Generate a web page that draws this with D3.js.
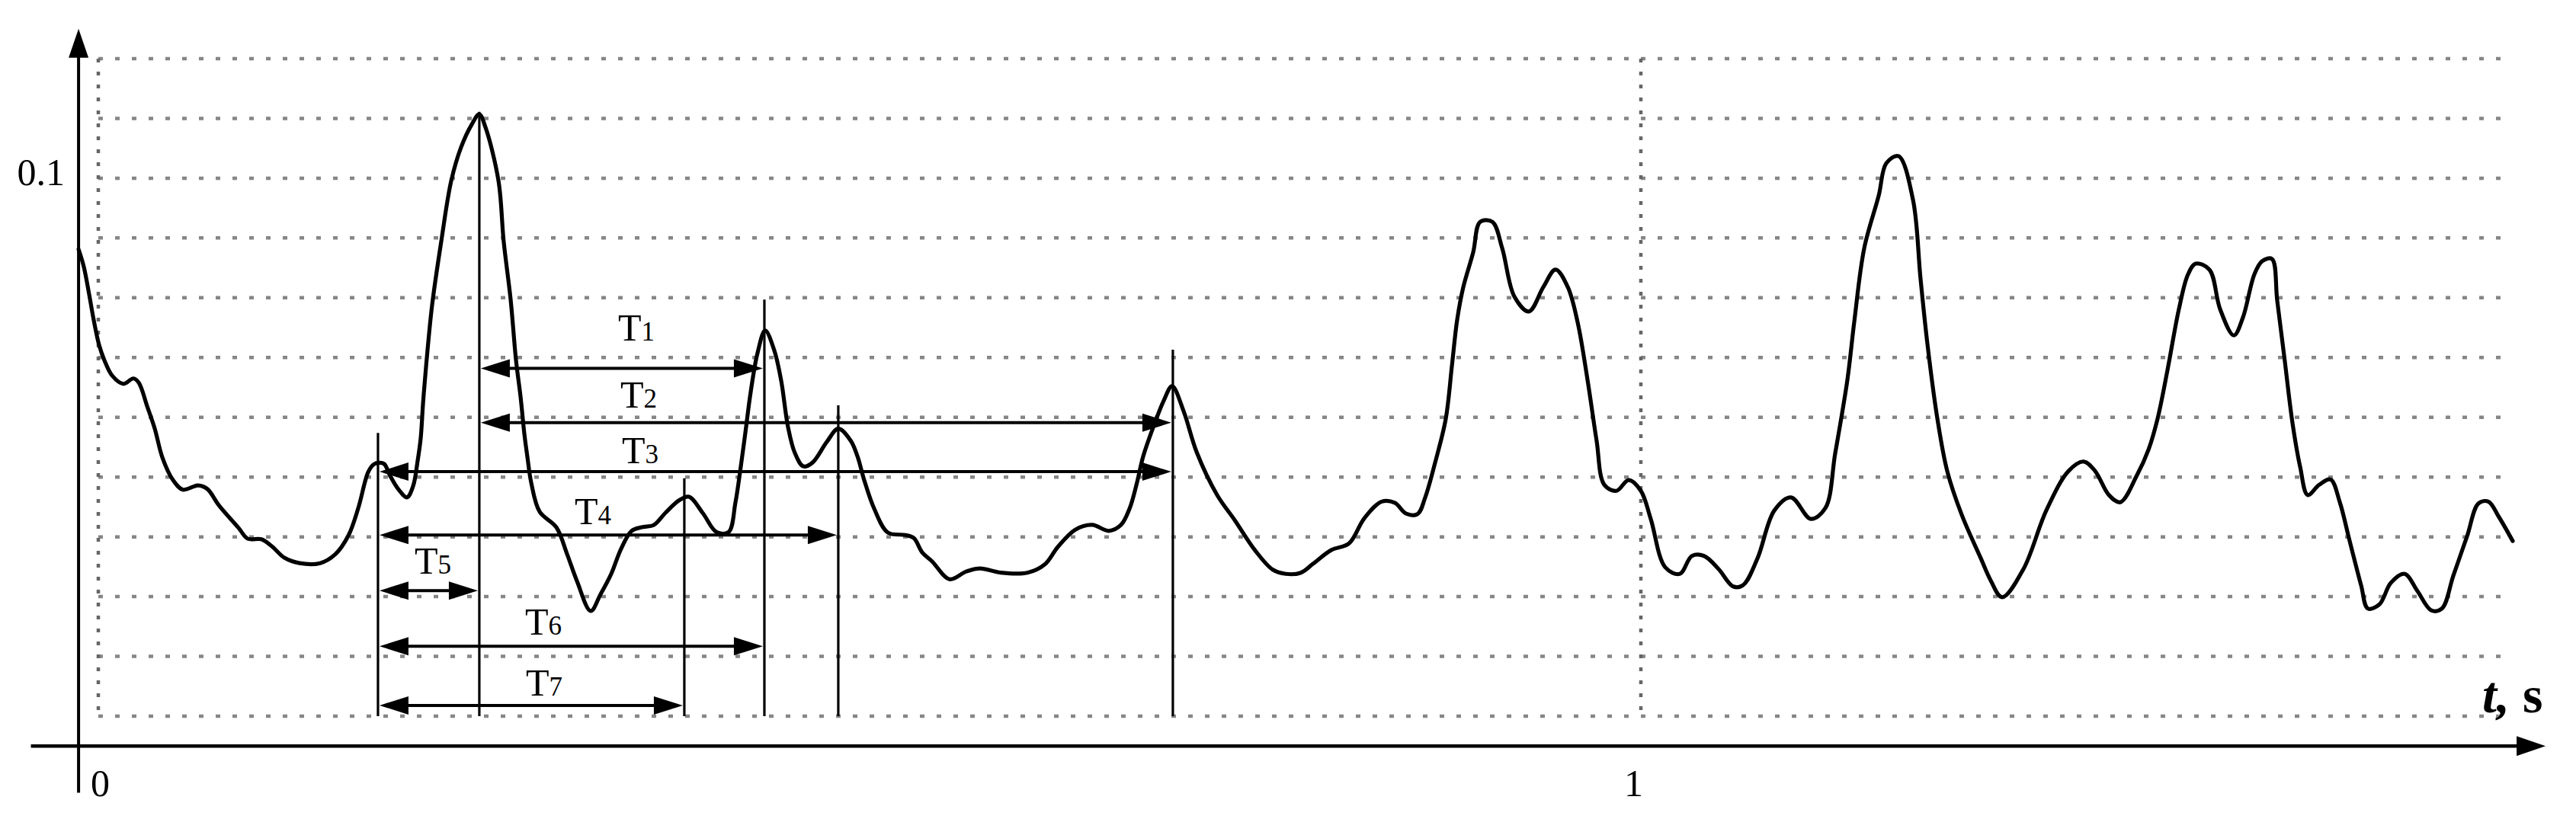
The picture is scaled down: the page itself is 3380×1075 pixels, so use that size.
<!DOCTYPE html>
<html>
<head>
<meta charset="utf-8">
<script src="https://cdn.jsdelivr.net/npm/d3@7"></script>
<style>
  html, body { margin: 0; padding: 0; background: #ffffff; }
  svg { display: block; }
</style>
</head>
<body>
<svg id="chart" width="3380" height="1075"></svg>
<script>
// ---------------- DATA ----------------
// time, s
const time = [
  -0.0128,-0.0094,-0.0059,-0.0030,0.0005,0.0040,0.0089,0.0163,0.0227,0.0262,
  0.0316,0.0366,0.0415,0.0484,0.0548,0.0647,0.0707,0.0781,0.0909,0.0968,
  0.1057,0.1126,0.1206,0.1304,0.1438,0.1537,0.1621,0.1685,0.1749,0.1784,
  0.1818,0.1853,0.1892,0.1947,0.2001,0.2041,0.2070,0.2090,0.2105,0.2125,
  0.2164,0.2223,0.2288,0.2352,0.2421,0.2470,0.2510,0.2594,0.2628,0.2673,
  0.2708,0.2737,0.2762,0.2782,0.2806,0.2861,0.2969,0.3039,0.3103,0.3192,
  0.3256,0.3325,0.3389,0.3458,0.3523,0.3602,0.3676,0.3765,0.3829,0.3918,
  0.4007,0.4086,0.4130,0.4160,0.4195,0.4229,0.4274,0.4323,0.4382,0.4427,
  0.4471,0.4516,0.4570,0.4629,0.4723,0.4797,0.4877,0.4921,0.4965,0.5030,
  0.5119,0.5232,0.5287,0.5341,0.5405,0.5519,0.5627,0.5716,0.5850,0.6023,
  0.6136,0.6220,0.6334,0.6443,0.6551,0.6630,0.6685,0.6729,0.6774,0.6838,
  0.6907,0.6961,0.7036,0.7120,0.7253,0.7367,0.7500,0.7614,0.7698,0.7796,
  0.7875,0.7994,0.8108,0.8207,0.8320,0.8404,0.8478,0.8552,0.8602,0.8666,
  0.8735,0.8775,0.8809,0.8849,0.8913,0.8958,0.9037,0.9101,0.9180,0.9274,
  0.9368,0.9447,0.9526,0.9590,0.9654,0.9713,0.9763,0.9842,0.9921,1.0000,
  1.0064,1.0158,1.0252,1.0331,1.0410,1.0504,1.0598,1.0662,1.0756,1.0865,
  1.0973,1.1102,1.1196,1.1260,1.1339,1.1383,1.1448,1.1542,1.1591,1.1670,
  1.1764,1.1813,1.1858,1.1922,1.1986,1.2080,1.2204,1.2268,1.2342,1.2480,
  1.2628,1.2772,1.2871,1.2945,1.3034,1.3108,1.3216,1.3291,1.3350,1.3414,
  1.3488,1.3547,1.3597,1.3686,1.3755,1.3844,1.3903,1.3977,1.4027,1.4091,
  1.4125,1.4175,1.4224,1.4274,1.4323,1.4397,1.4471,1.4531,1.4595,1.4669,
  1.4713,1.4788,1.4862,1.4951,1.5035,1.5124,1.5193,1.5267,1.5356,1.5430,
  1.5494,1.5563,1.5652
];
// signal amplitude
const amplitude = [
  0.0881,0.0852,0.0805,0.0763,0.0721,0.0695,0.0670,0.0656,0.0665,0.0658,
  0.0619,0.0581,0.0533,0.0495,0.0479,0.0486,0.0480,0.0453,0.0415,0.0397,
  0.0396,0.0384,0.0365,0.0356,0.0356,0.0371,0.0402,0.0448,0.0508,0.0521,
  0.0524,0.0522,0.0502,0.0479,0.0466,0.0485,0.0527,0.0565,0.0623,0.0686,
  0.0788,0.0894,0.0996,0.1052,0.1090,0.1107,0.1085,0.0996,0.0894,0.0797,
  0.0695,0.0635,0.0572,0.0533,0.0491,0.0442,0.0416,0.0371,0.0326,0.0276,
  0.0304,0.0338,0.0380,0.0410,0.0416,0.0420,0.0440,0.0461,0.0467,0.0440,
  0.0408,0.0408,0.0457,0.0508,0.0575,0.0642,0.0708,0.0745,0.0712,0.0661,
  0.0584,0.0540,0.0518,0.0524,0.0559,0.0581,0.0561,0.0535,0.0495,0.0447,
  0.0407,0.0403,0.0398,0.0374,0.0359,0.0329,0.0342,0.0347,0.0340,0.0340,
  0.0354,0.0383,0.0412,0.0420,0.0410,0.0420,0.0447,0.0486,0.0535,0.0583,
  0.0628,0.0652,0.0610,0.0542,0.0470,0.0428,0.0377,0.0345,0.0338,0.0340,
  0.0355,0.0378,0.0389,0.0431,0.0459,0.0457,0.0439,0.0438,0.0466,0.0524,
  0.0597,0.0686,0.0763,0.0818,0.0876,0.0927,0.0927,0.0883,0.0802,0.0777,
  0.0818,0.0847,0.0818,0.0759,0.0663,0.0561,0.0487,0.0477,0.0495,0.0477,
  0.0430,0.0349,0.0338,0.0368,0.0368,0.0346,0.0317,0.0319,0.0364,0.0444,
  0.0466,0.0430,0.0448,0.0540,0.0663,0.0759,0.0883,0.0971,0.1025,0.1037,
  0.0964,0.0832,0.0722,0.0598,0.0510,0.0437,0.0364,0.0327,0.0299,0.0346,
  0.0444,0.0510,0.0526,0.0510,0.0470,0.0458,0.0503,0.0546,0.0598,0.0679,
  0.0781,0.0839,0.0857,0.0847,0.0781,0.0737,0.0767,0.0839,0.0861,0.0865,
  0.0796,0.0693,0.0591,0.0517,0.0470,0.0487,0.0496,0.0458,0.0393,0.0319,
  0.0280,0.0287,0.0323,0.0338,0.0309,0.0277,0.0280,0.0335,0.0401,0.0456,
  0.0459,0.0433,0.0393
];

// grid levels and grid times
const gridLevels = [0.01,0.02,0.03,0.04,0.05,0.06,0.07,0.08,0.09,0.10,0.11,0.12];
const gridTimes = [0, 1];
const gridTimeEnd = 1.563;

// tick labels
const xTickValues = [0, 1];
const xTickLabels = ["0", "1"];
const yTickValues = [0.1];
const yTickLabels = ["0.1"];

// marker (vertical) lines: time and top level
const markerTimes = [0.1813, 0.2470, 0.3799, 0.4318, 0.4797, 0.6966];
const markerTops  = [0.0574, 0.1111, 0.0498, 0.0797, 0.0620, 0.0713];

// interval arrows T1..T7
const intervalNames = ["1","2","3","4","5","6","7"];
const intervalStart = [0.2470, 0.2470, 0.1813, 0.1813, 0.1813, 0.1813, 0.1813];
const intervalEnd   = [0.4318, 0.6966, 0.6966, 0.4797, 0.2470, 0.4318, 0.3799];
const intervalLevel = [0.0682, 0.0591, 0.0509, 0.0403, 0.0310, 0.0217, 0.0118];
const labelTime     = [0.3488, 0.3503, 0.3513, 0.3207, 0.2169, 0.2885, 0.2890];
const labelLevel    = [0.0728, 0.0616, 0.0523, 0.0421, 0.0338, 0.0236, 0.0134];

// axes extents (data units)
const yAxisTime = -0.0128;
const xAxisLevel = 0.005;
const yAxisRange = [-0.0028, 0.1250];
const xAxisRange = [-0.0437, 1.5865];
const xAxisTitle = ["t", ", ", "s"];

// ---------------- DRAWING ----------------
const svg = d3.select("#chart");
const x = d3.scaleLinear().domain([0, 1]).range([129, 2153]);
const y = d3.scaleLinear().domain([0.01, 0.12]).range([940, 77]);
const serif = "'Liberation Serif', 'Times New Roman', serif";

// horizontal dotted grid
svg.append("g").selectAll("line").data(gridLevels).join("line")
  .attr("x1", x(0)).attr("x2", x(gridTimeEnd))
  .attr("y1", d => y(d)).attr("y2", d => y(d))
  .attr("stroke", "#868686").attr("stroke-width", 4.5)
  .attr("stroke-dasharray", "6 16");

// vertical dotted grid
svg.append("g").selectAll("line").data(gridTimes).join("line")
  .attr("x1", d => x(d)).attr("x2", d => x(d))
  .attr("y1", y(0.12)).attr("y2", y(0.01))
  .attr("stroke", "#666666").attr("stroke-width", 4.5)
  .attr("stroke-dasharray", "5 12");

// marker vertical lines
svg.append("g").selectAll("line").data(markerTimes).join("line")
  .attr("x1", d => x(d)).attr("x2", d => x(d))
  .attr("y1", (d, i) => y(markerTops[i])).attr("y2", y(0.01))
  .attr("stroke", "#000").attr("stroke-width", 3.2);

// signal
const pts = time.map((t, i) => [t, amplitude[i]]);
svg.append("path").datum(pts)
  .attr("fill", "none").attr("stroke", "#000").attr("stroke-width", 5.2)
  .attr("stroke-linejoin", "round").attr("stroke-linecap", "round")
  .attr("d", d3.line().x(d => x(d[0])).y(d => y(d[1])).curve(d3.curveCatmullRom.alpha(0.5)));

// interval arrows
const headL = 38, headW = 12;
const arrows = svg.append("g");
intervalNames.forEach((name, i) => {
  const x1 = x(intervalStart[i]), x2 = x(intervalEnd[i]), yy = y(intervalLevel[i]);
  arrows.append("line").attr("x1", x1 + 10).attr("x2", x2 - 10)
    .attr("y1", yy).attr("y2", yy).attr("stroke", "#000").attr("stroke-width", 4);
  arrows.append("path").attr("fill", "#000")
    .attr("d", `M${x1 + 2},${yy} L${x1 + 2 + headL},${yy - headW} L${x1 + 2 + headL},${yy + headW} Z`);
  arrows.append("path").attr("fill", "#000")
    .attr("d", `M${x2 - 2},${yy} L${x2 - 2 - headL},${yy - headW} L${x2 - 2 - headL},${yy + headW} Z`);
  const txt = arrows.append("text")
    .attr("x", x(labelTime[i])).attr("y", y(labelLevel[i]))
    .attr("text-anchor", "middle").attr("font-family", serif)
    .attr("font-size", 50).attr("fill", "#000");
  txt.append("tspan").text("T");
  txt.append("tspan").attr("font-size", 35).text(name);
});

// axes lines with arrowheads
const ax = svg.append("g");
const yx = x(yAxisTime);
ax.append("line").attr("x1", yx).attr("x2", yx)
  .attr("y1", y(yAxisRange[0])).attr("y2", y(yAxisRange[1]) + 20)
  .attr("stroke", "#000").attr("stroke-width", 4);
ax.append("path").attr("fill", "#000")
  .attr("d", `M${yx},${y(yAxisRange[1])} L${yx - 13},${y(yAxisRange[1]) + 38} L${yx + 13},${y(yAxisRange[1]) + 38} Z`);
const xy = y(xAxisLevel);
ax.append("line").attr("x1", x(xAxisRange[0])).attr("x2", x(xAxisRange[1]) - 20)
  .attr("y1", xy).attr("y2", xy).attr("stroke", "#000").attr("stroke-width", 4.5);
ax.append("path").attr("fill", "#000")
  .attr("d", `M${x(xAxisRange[1])},${xy} L${x(xAxisRange[1]) - 38},${xy - 13} L${x(xAxisRange[1]) - 38},${xy + 13} Z`);

// tick labels through d3 axes (no tick marks, no domain)
const xAxisG = svg.append("g").attr("transform", `translate(0,${xy})`)
  .call(d3.axisBottom(x).tickValues(xTickValues).tickFormat((d, i) => xTickLabels[i]).tickSize(0).tickPadding(30));
xAxisG.select(".domain").remove();
xAxisG.selectAll("text").attr("font-family", serif).attr("font-size", 50).attr("fill", "#000")
  .attr("dx", (d, i) => i === 0 ? 2 : -10);

const yAxisG = svg.append("g").attr("transform", `translate(${yx},0)`)
  .call(d3.axisLeft(y).tickValues(yTickValues).tickFormat((d, i) => yTickLabels[i]).tickSize(0).tickPadding(18));
yAxisG.select(".domain").remove();
yAxisG.selectAll("text").attr("font-family", serif).attr("font-size", 50).attr("fill", "#000")
  .attr("dy", "0.18em");

// x axis title "t, s"
const title = svg.append("text").attr("x", 3257).attr("y", 935)
  .attr("font-family", serif).attr("font-size", 68).attr("font-weight", "bold").attr("fill", "#000");
title.append("tspan").attr("font-style", "italic").text(xAxisTitle[0]);
title.append("tspan").attr("font-style", "italic").text(xAxisTitle[1]);
title.append("tspan").text(xAxisTitle[2]);
</script>
</body>
</html>
